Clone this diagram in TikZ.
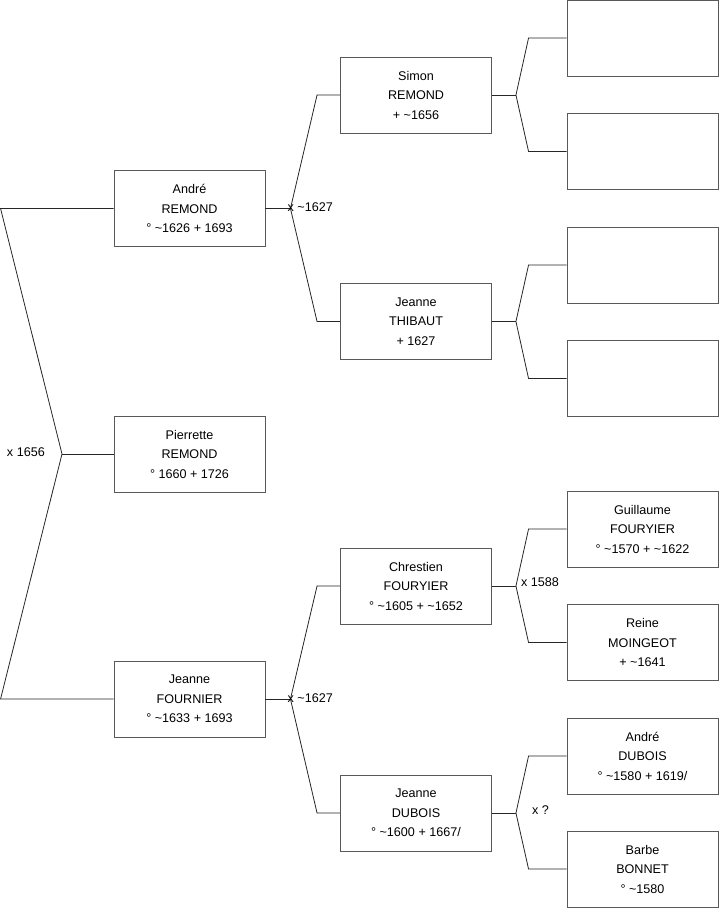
\documentclass[tikz,border=0pt]{standalone}
\usepackage{fontspec}
\setmainfont{Liberation Sans}
\usetikzlibrary{positioning,calc}

\begin{document}
\begin{tikzpicture}[x=1pt, y=-1pt,
    person/.style={draw=black!65, line width=0.9pt, minimum width=151pt, minimum height=76pt,
                   inner sep=0pt, align=center, font=\fontsize{12.6}{19.5}\selectfont},
    link/.style={draw=black!85, line width=0.8pt},
    union/.style={font=\fontsize{12.6}{14}\selectfont, inner sep=0pt}]
    \useasboundingbox (0,0) rectangle (719,908);

    % Column 1: Pierrette and her parents
    \node[person] (andre)     at (189.5,208.5) {André\\REMOND\\° \textasciitilde1626 + 1693};
    \node[person] (pierrette) at (189.5,454)   {Pierrette\\REMOND\\° 1660 + 1726};
    \node[person] (fournier)  at (189.5,699)   {Jeanne\\FOURNIER\\° \textasciitilde1633 + 1693};

    % Column 2: grandparents
    \node[person] (simon)     at (416,95)  {Simon\\REMOND\\+ \textasciitilde1656};
    \node[person] (thibaut)   at (416,321.5) {Jeanne\\THIBAUT\\+ 1627};
    \node[person] (chrestien) at (416,586) {Chrestien\\FOURYIER\\° \textasciitilde1605 + \textasciitilde1652};
    \node[person] (dubois)    at (416,813) {Jeanne\\DUBOIS\\° \textasciitilde1600 + 1667/};

    % Column 3: great-grandparents
    \node[person] (empty1)    at (642.5,38)  {};
    \node[person] (empty2)    at (642.5,151.5) {};
    \node[person] (empty3)    at (642.5,265) {};
    \node[person] (empty4)    at (642.5,378.5) {};
    \node[person] (guillaume) at (642.5,529) {Guillaume\\FOURYIER\\° \textasciitilde1570 + \textasciitilde1622};
    \node[person] (reine)     at (642.5,642.5) {Reine\\MOINGEOT\\+ \textasciitilde1641};
    \node[person] (andred)    at (642.5,756) {André\\DUBOIS\\° \textasciitilde1580 + 1619/};
    \node[person] (barbe)     at (642.5,869) {Barbe\\BONNET\\° \textasciitilde1580};

    % Fork of Pierrette (to the left)
    \coordinate (fP) at (62,454);
    \draw[link] (andre.west) -- ($(andre.west)+(-113,0)$) -- (fP) -- ($(fournier.west)+(-113,0)$) -- (fournier.west);
    \draw[link] (pierrette.west) -- (fP);

    % Forks column 1 -> column 2
    \foreach \c/\a/\b in {andre/simon/thibaut, fournier/chrestien/dubois} {
        \draw[link] (\c.east) -- ++(25,0) coordinate (f\c);
        \draw[link] (\a.west) -- ++(-23,0) -- (f\c) -- ($(\b.west)+(-23,0)$) -- (\b.west);
    }

    % Forks column 2 -> column 3
    \foreach \c/\a/\b in {simon/empty1/empty2, thibaut/empty3/empty4,
                          chrestien/guillaume/reine, dubois/andred/barbe} {
        \draw[link] (\c.east) -- ++(24,0) coordinate (f\c);
        \draw[link] (\a.west) -- ++(-38,0) -- (f\c) -- ($(\b.west)+(-38,0)$) -- (\b.west);
    }

    % Marriages
    \node[union, anchor=east] (m1656)  at ($(fP)+(-17,-2)$) {x 1656};
    \node[union, anchor=west] (m1627a) at ($(fandre)+(-3,-1)$) {x \textasciitilde1627};
    \node[union, anchor=west] (m1627b) at ($(ffournier)+(-3,-1)$) {x \textasciitilde1627};
    \node[union, anchor=west] (m1588)  at ($(fchrestien)+(5,-4)$) {x 1588};
    \node[union, anchor=west] (munk)   at ($(fdubois)+(16,-3)$) {x ?};
\end{tikzpicture}
\end{document}
